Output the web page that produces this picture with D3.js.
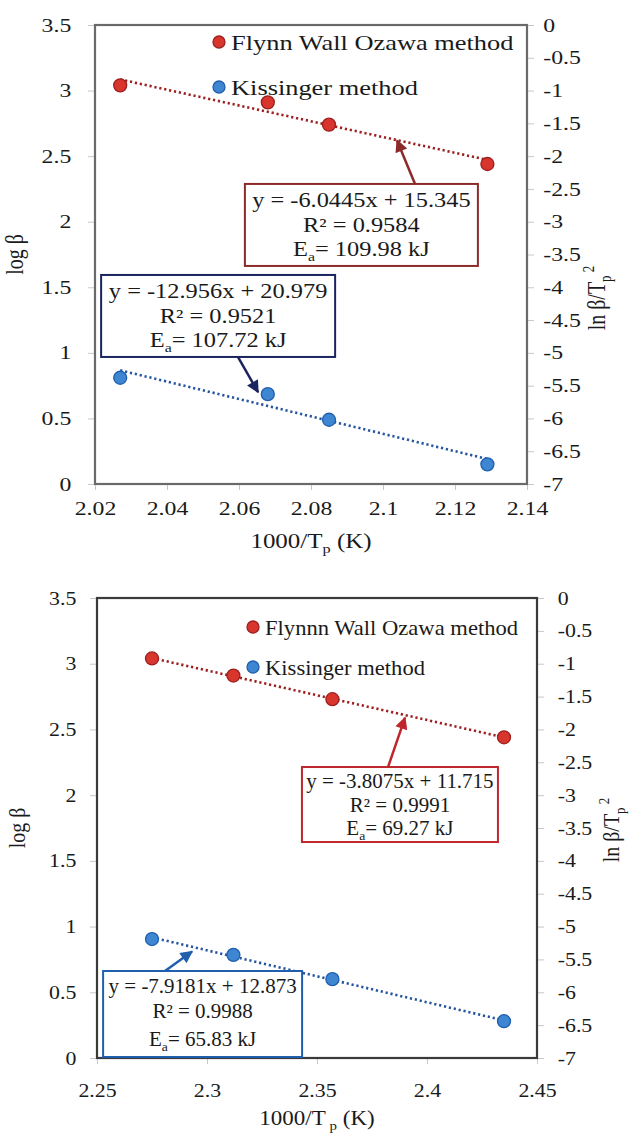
<!DOCTYPE html>
<html>
<head>
<meta charset="utf-8">
<script src="https://cdn.jsdelivr.net/npm/d3@7"></script>
<style>
  body { margin: 0; background: #fff; }
</style>
</head>
<body>
<div class="canvas"></div>
<script>
// ---- data, top panel ----
const xTop = [2.027, 2.068, 2.085, 2.129];
const fwoTop = [3.04, 2.91, 2.74, 2.44];
const kisTop = [-5.38, -5.63, -6.02, -6.70];
const xTicksTop = [2.02, 2.04, 2.06, 2.08, 2.1, 2.12, 2.14];
const legendTop = ["Flynn Wall Ozawa method", "Kissinger method"];
const fwoEqTop = ["y = -6.0445x + 15.345", "R² = 0.9584", "= 109.98 kJ"];
const kisEqTop = ["y = -12.956x + 20.979", "R² = 0.9521", "= 107.72 kJ"];

// ---- data, bottom panel ----
const xBot = [2.275, 2.312, 2.357, 2.435];
const fwoBot = [3.04, 2.91, 2.73, 2.44];
const kisBot = [-5.19, -5.43, -5.80, -6.44];
const xTicksBot = [2.25, 2.3, 2.35, 2.4, 2.45];
const legendBot = ["Flynnn Wall Ozawa method", "Kissinger method"];
const fwoEqBot = ["y = -3.8075x + 11.715", "R² = 0.9991", "= 69.27 kJ"];
const kisEqBot = ["y = -7.9181x + 12.873", "R² = 0.9988", "= 65.83 kJ"];

// shared axes
const leftTicks = [0, 0.5, 1, 1.5, 2, 2.5, 3, 3.5];
const rightTicks = [-7, -6.5, -6, -5.5, -5, -4.5, -4, -3.5, -3, -2.5, -2, -1.5, -1, -0.5, 0];

const RED = "#d8362c", RED_DARK = "#9e1f1f", RED_BOX = "#8c2a2a";
const BLUE = "#3f86d2", BLUE_DARK = "#1f5fae";
const FONT = "Liberation Serif";

const svg = d3.select(".canvas").append("svg")
  .attr("width", 631).attr("height", 1137)
  .attr("font-family", FONT);

const defs = svg.append("defs");
function arrowMarker(id, color) {
  defs.append("marker")
    .attr("id", id)
    .attr("viewBox", "0 0 10 10")
    .attr("refX", 9).attr("refY", 5)
    .attr("markerWidth", 5.5).attr("markerHeight", 5)
    .attr("markerUnits", "strokeWidth")
    .attr("orient", "auto")
    .append("path").attr("d", "M0,0 L10,5 L0,10 z").attr("fill", color);
}
arrowMarker("arRed", RED_BOX);
arrowMarker("arRed2", "#c0272d");
arrowMarker("arNavy", "#1c2460");
arrowMarker("arBlue", BLUE_DARK);

const fmt = (d) => String(+d.toFixed(2));

function fit(xs, ys) {
  const mx = d3.mean(xs), my = d3.mean(ys);
  const b = d3.sum(xs, (x, i) => (x - mx) * (ys[i] - my)) / d3.sum(xs, (x) => (x - mx) ** 2);
  return [b, my - b * mx];
}

// text stretched horizontally like the reference
function stext(g, x, y, sx, size, anchor) {
  return g.append("text")
    .attr("transform", `translate(${x},${y}) scale(${sx},1)`)
    .attr("text-anchor", anchor)
    .attr("font-size", size)
    .attr("fill", "#1a1a1a");
}

function eqBox(g, p, xS, yL, eq, c) {
  const cx = xS(c.cx), top = yL(c.top);
  g.append("rect")
    .attr("x", cx - c.w / 2).attr("y", top)
    .attr("width", c.w).attr("height", c.h)
    .attr("fill", "white")
    .attr("stroke", c.color).attr("stroke-width", 2);
  stext(g, cx, top + c.lines[0], p.bsx, 20, "middle").text(eq[0]);
  stext(g, cx, top + c.lines[1], p.bsx, 20, "middle").text(eq[1]);
  const t = stext(g, cx, top + c.lines[2], p.bsx, 20, "middle");
  t.append("tspan").text("E");
  t.append("tspan").attr("font-size", 13).attr("dy", 5).text("a");
  t.append("tspan").attr("dy", -5).text(eq[2]);
  // arrow from box edge to the trend line
  const ty = c.fromBottom ? top + c.h : top;
  g.append("line")
    .attr("x1", xS(c.tailX)).attr("y1", ty)
    .attr("x2", xS(c.tipX)).attr("y2", yL(c.tipY))
    .attr("stroke", c.color).attr("stroke-width", 2.5)
    .attr("marker-end", `url(#${c.marker})`);
}

function drawPanel(p) {
  const g = svg.append("g");
  const xS = d3.scaleLinear().domain(p.xDomain).range([p.left, p.right]);
  const yL = d3.scaleLinear().domain([0, 3.5]).range([p.bottom, p.top]);
  const yR = d3.scaleLinear().domain([-7, 0]).range([p.bottom, p.top]);

  // axes
  const ax = (sel) => {
    sel.select(".domain").remove();
    sel.selectAll("line").attr("stroke", "#c8c8c8");
    sel.selectAll("text").attr("font-family", FONT).attr("font-size", 19).attr("fill", "#1a1a1a");
  };
  g.append("g").attr("transform", `translate(${p.left},0)`)
    .call(d3.axisLeft(yL).tickValues(leftTicks).tickFormat(fmt).tickSize(7).tickPadding(p.lpad))
    .call(ax)
    .selectAll("text").attr("transform", `scale(${p.sx},1)`);
  g.append("g").attr("transform", `translate(${p.right},0)`)
    .call(d3.axisRight(yR).tickValues(rightTicks).tickFormat(fmt).tickSize(7).tickPadding(p.rpad))
    .call(ax)
    .selectAll("text").attr("transform", `scale(${p.sx},1)`);
  g.append("g").attr("transform", `translate(0,${p.bottom})`)
    .call(d3.axisBottom(xS).tickValues(p.xTicks).tickFormat(fmt).tickSize(6).tickPadding(p.xpad))
    .call(ax)
    .selectAll(".tick text").attr("transform", `scale(${p.sx},1)`);

  // frame
  g.append("rect")
    .attr("x", p.left).attr("y", p.top)
    .attr("width", p.right - p.left).attr("height", p.bottom - p.top)
    .attr("fill", "none").attr("stroke", p.frame).attr("stroke-width", 2.2);

  // trend lines
  const series = [
    { ys: p.fwo, y: yL, fill: RED, stroke: RED_DARK, line: RED_DARK },
    { ys: p.kis, y: yR, fill: BLUE, stroke: BLUE_DARK, line: "#2554a0" },
  ];
  series.forEach((s) => {
    const [b, a] = fit(p.x, s.ys);
    const ends = d3.extent(p.x);
    g.append("line")
      .attr("x1", xS(ends[0])).attr("y1", s.y(a + b * ends[0]))
      .attr("x2", xS(ends[1])).attr("y2", s.y(a + b * ends[1]))
      .attr("stroke", s.line).attr("stroke-width", 2.6)
      .attr("stroke-dasharray", "2.2,2.8");
  });

  // annotation boxes
  eqBox(g, p, xS, yL, p.fwoEq, p.fwoBox);
  eqBox(g, p, xS, yL, p.kisEq, p.kisBox);

  // points
  series.forEach((s) => {
    g.selectAll(null).data(p.x).enter().append("circle")
      .attr("cx", (d) => xS(d))
      .attr("cy", (d, i) => s.y(s.ys[i]))
      .attr("r", 6.5)
      .attr("fill", s.fill).attr("stroke", s.stroke).attr("stroke-width", 1.3);
  });

  // legend
  const lg = [RED, BLUE];
  const lgs = [RED_DARK, BLUE_DARK];
  p.legend.forEach((name, i) => {
    const ly = p.top + p.legY[i];
    g.append("circle")
      .attr("cx", p.left + p.legX).attr("cy", ly)
      .attr("r", 6).attr("fill", lg[i]).attr("stroke", lgs[i]).attr("stroke-width", 1.3);
    stext(g, p.left + p.legX + 12, ly + 8, p.lsx, p.lsize, "start").text(name);
  });

  // axis titles
  const xt = stext(g, (p.left + p.right) / 2, p.bottom + p.xtitle, p.sx, 20, "middle");
  xt.append("tspan").text("1000/T");
  xt.append("tspan").attr("font-size", 13).attr("dy", 5).text(p.subSpace + "p");
  xt.append("tspan").attr("dy", -5).text(" (K)");

  g.append("text")
    .attr("transform", `translate(${p.left - 72},${(p.top + p.bottom) / 2}) rotate(-90) scale(1,${p.sx})`)
    .attr("text-anchor", "middle").attr("font-size", 20).attr("fill", "#1a1a1a")
    .text("log β");

  const rt = g.append("text")
    .attr("transform", `translate(${p.right + p.rtX},${p.rtY}) rotate(-90) scale(1,${p.sx})`)
    .attr("text-anchor", "middle").attr("font-size", 20).attr("fill", "#1a1a1a");
  rt.append("tspan").text("ln β/T");
  rt.append("tspan").attr("font-size", 13).attr("dy", 5).text("p");
  rt.append("tspan").attr("font-size", 13).attr("dy", -14).text(" 2");
}

drawPanel({
  x: xTop, fwo: fwoTop, kis: kisTop, xTicks: xTicksTop, xDomain: [2.02, 2.14],
  legend: legendTop, fwoEq: fwoEqTop, kisEq: kisEqTop,
  left: 95, right: 527, top: 25, bottom: 484,
  sx: 1.25, lsx: 1.2, lsize: 22, bsx: 1.22, lpad: 12, rpad: 6, xpad: 12,
  frame: "#6a6a6a", legX: 124, legY: [17, 62], xtitle: 64, subSpace: "", rtX: 78, rtY: 298,
  fwoBox: { cx: 2.094, top: 2.288, w: 233, h: 82, lines: [23, 48, 72], color: RED_BOX,
    tailX: 2.1089, tipX: 2.1039, tipY: 2.62, fromBottom: false, marker: "arRed" },
  kisBox: { cx: 2.0542, top: 1.594, w: 234, h: 82, lines: [23, 48, 72], color: "#1c2460",
    tailX: 2.0597, tipX: 2.0653, tipY: 0.70, fromBottom: true, marker: "arNavy" },
});

drawPanel({
  x: xBot, fwo: fwoBot, kis: kisBot, xTicks: xTicksBot, xDomain: [2.25, 2.45],
  legend: legendBot, fwoEq: fwoEqBot, kisEq: kisEqBot,
  left: 97, right: 537, top: 598, bottom: 1058,
  sx: 1.15, lsx: 1.13, lsize: 20, bsx: 1.05, lpad: 11, rpad: 11, xpad: 20,
  frame: "#3a3a3a", legX: 156, legY: [29, 69], xtitle: 67, subSpace: " ", rtX: 82, rtY: 830,
  fwoBox: { cx: 2.3877, top: 2.214, w: 196, h: 75, lines: [21, 45, 68], color: "#c0272d",
    tailX: 2.3823, tipX: 2.39, tipY: 2.59, fromBottom: false, marker: "arRed2" },
  kisBox: { cx: 2.298, top: 0.662, w: 199, h: 86, lines: [22, 47, 75], color: BLUE_DARK,
    tailX: 2.2809, tipX: 2.2932, tipY: 0.81, fromBottom: false, marker: "arBlue" },
});
</script>
</body>
</html>
